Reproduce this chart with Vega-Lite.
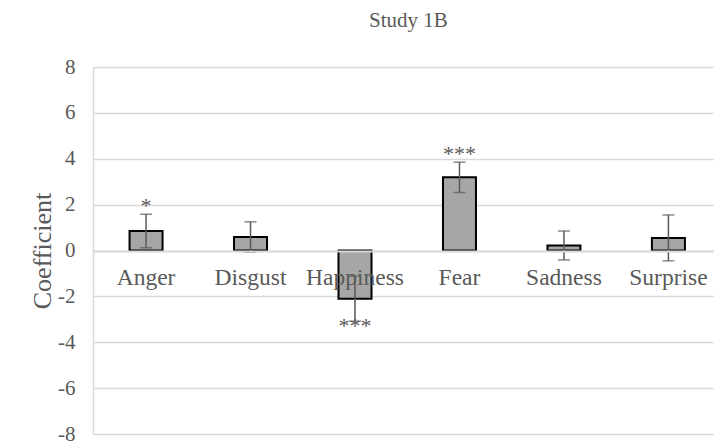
{
  "$schema": "https://vega.github.io/schema/vega-lite/v6.json",
  "autosize": {"type": "none"},
  "width": 621,
  "height": 367,
  "padding": {"left": 93, "top": 67, "right": 0, "bottom": 10},
  "title": {
    "text": "Study 1B",
    "font": "Liberation Serif",
    "fontSize": 21,
    "fontWeight": "normal",
    "color": "#595959",
    "anchor": "middle",
    "dx": 5,
    "offset": 25
  },
  "config": {
    "view": {"stroke": null},
    "font": "Liberation Serif"
  },
  "data": {
    "values": [
      {"emotion": "Anger", "coef": 0.85, "lo": 0.12, "hi": 1.58, "sig": "*"},
      {"emotion": "Disgust", "coef": 0.59, "lo": -0.07, "hi": 1.25, "sig": ""},
      {"emotion": "Happiness", "coef": -2.1, "lo": -3.08, "hi": -1.12, "sig": "***"},
      {"emotion": "Fear", "coef": 3.19, "lo": 2.53, "hi": 3.85, "sig": "***"},
      {"emotion": "Sadness", "coef": 0.22, "lo": -0.41, "hi": 0.85, "sig": ""},
      {"emotion": "Surprise", "coef": 0.55, "lo": -0.45, "hi": 1.55, "sig": ""}
    ]
  },
  "encoding": {
    "x": {
      "field": "emotion",
      "type": "nominal",
      "sort": null,
      "scale": {"paddingInner": 0.684, "paddingOuter": 0.314, "align": 0.557},
      "axis": {
        "title": null,
        "orient": "bottom",
        "offset": -183,
        "ticks": false,
        "domain": true,
        "domainColor": "#d9d9d9",
        "domainWidth": 2,
        "labelAngle": 0,
        "labelFont": "Liberation Serif",
        "labelFontSize": 23.5,
        "labelColor": "#595959",
        "labelPadding": 14,
        "labelBaseline": "top",
        "zindex": 1
      }
    }
  },
  "layer": [
    {
      "mark": {"type": "bar", "color": "#a6a6a6", "stroke": "#000000", "strokeWidth": 2},
      "encoding": {
        "y": {
          "field": "coef",
          "type": "quantitative",
          "scale": {"domain": [-8, 8], "nice": false},
          "axis": {
            "title": "Coefficient",
            "titleFont": "Liberation Serif",
            "titleFontSize": 26,
            "titleFontWeight": "normal",
            "titleColor": "#595959",
            "titleX": -51,
            "titleBaseline": "middle",
            "values": [-8, -6, -4, -2, 0, 2, 4, 6, 8],
            "labelExpr": "replace(datum.label, '−', '-')",
            "grid": true,
            "gridColor": "#d9d9d9",
            "gridWidth": 1.5,
            "domain": true,
            "domainColor": "#d9d9d9",
            "domainWidth": 1.5,
            "ticks": false,
            "labelFont": "Liberation Serif",
            "labelFontSize": 21,
            "labelColor": "#595959",
            "labelPadding": 18
          }
        }
      }
    },
    {
      "mark": {"type": "rule", "color": "#595959", "strokeWidth": 1.5},
      "encoding": {
        "y": {"field": "lo", "type": "quantitative"},
        "y2": {"field": "hi"}
      }
    },
    {
      "mark": {"type": "tick", "color": "#595959", "thickness": 1.5, "size": 12, "orient": "horizontal"},
      "encoding": {"y": {"field": "lo", "type": "quantitative"}}
    },
    {
      "mark": {"type": "tick", "color": "#595959", "thickness": 1.5, "size": 12, "orient": "horizontal"},
      "encoding": {"y": {"field": "hi", "type": "quantitative"}}
    },
    {
      "transform": [{"filter": "datum.coef > 0"}],
      "mark": {"type": "text", "font": "Liberation Serif", "fontSize": 22, "color": "#595959", "baseline": "bottom", "dy": 4},
      "encoding": {
        "y": {"field": "hi", "type": "quantitative"},
        "text": {"field": "sig"}
      }
    },
    {
      "transform": [{"filter": "datum.coef < 0"}],
      "mark": {"type": "text", "font": "Liberation Serif", "fontSize": 22, "color": "#595959", "baseline": "middle", "dy": 5},
      "encoding": {
        "y": {"field": "lo", "type": "quantitative"},
        "text": {"field": "sig"}
      }
    }
  ]
}
